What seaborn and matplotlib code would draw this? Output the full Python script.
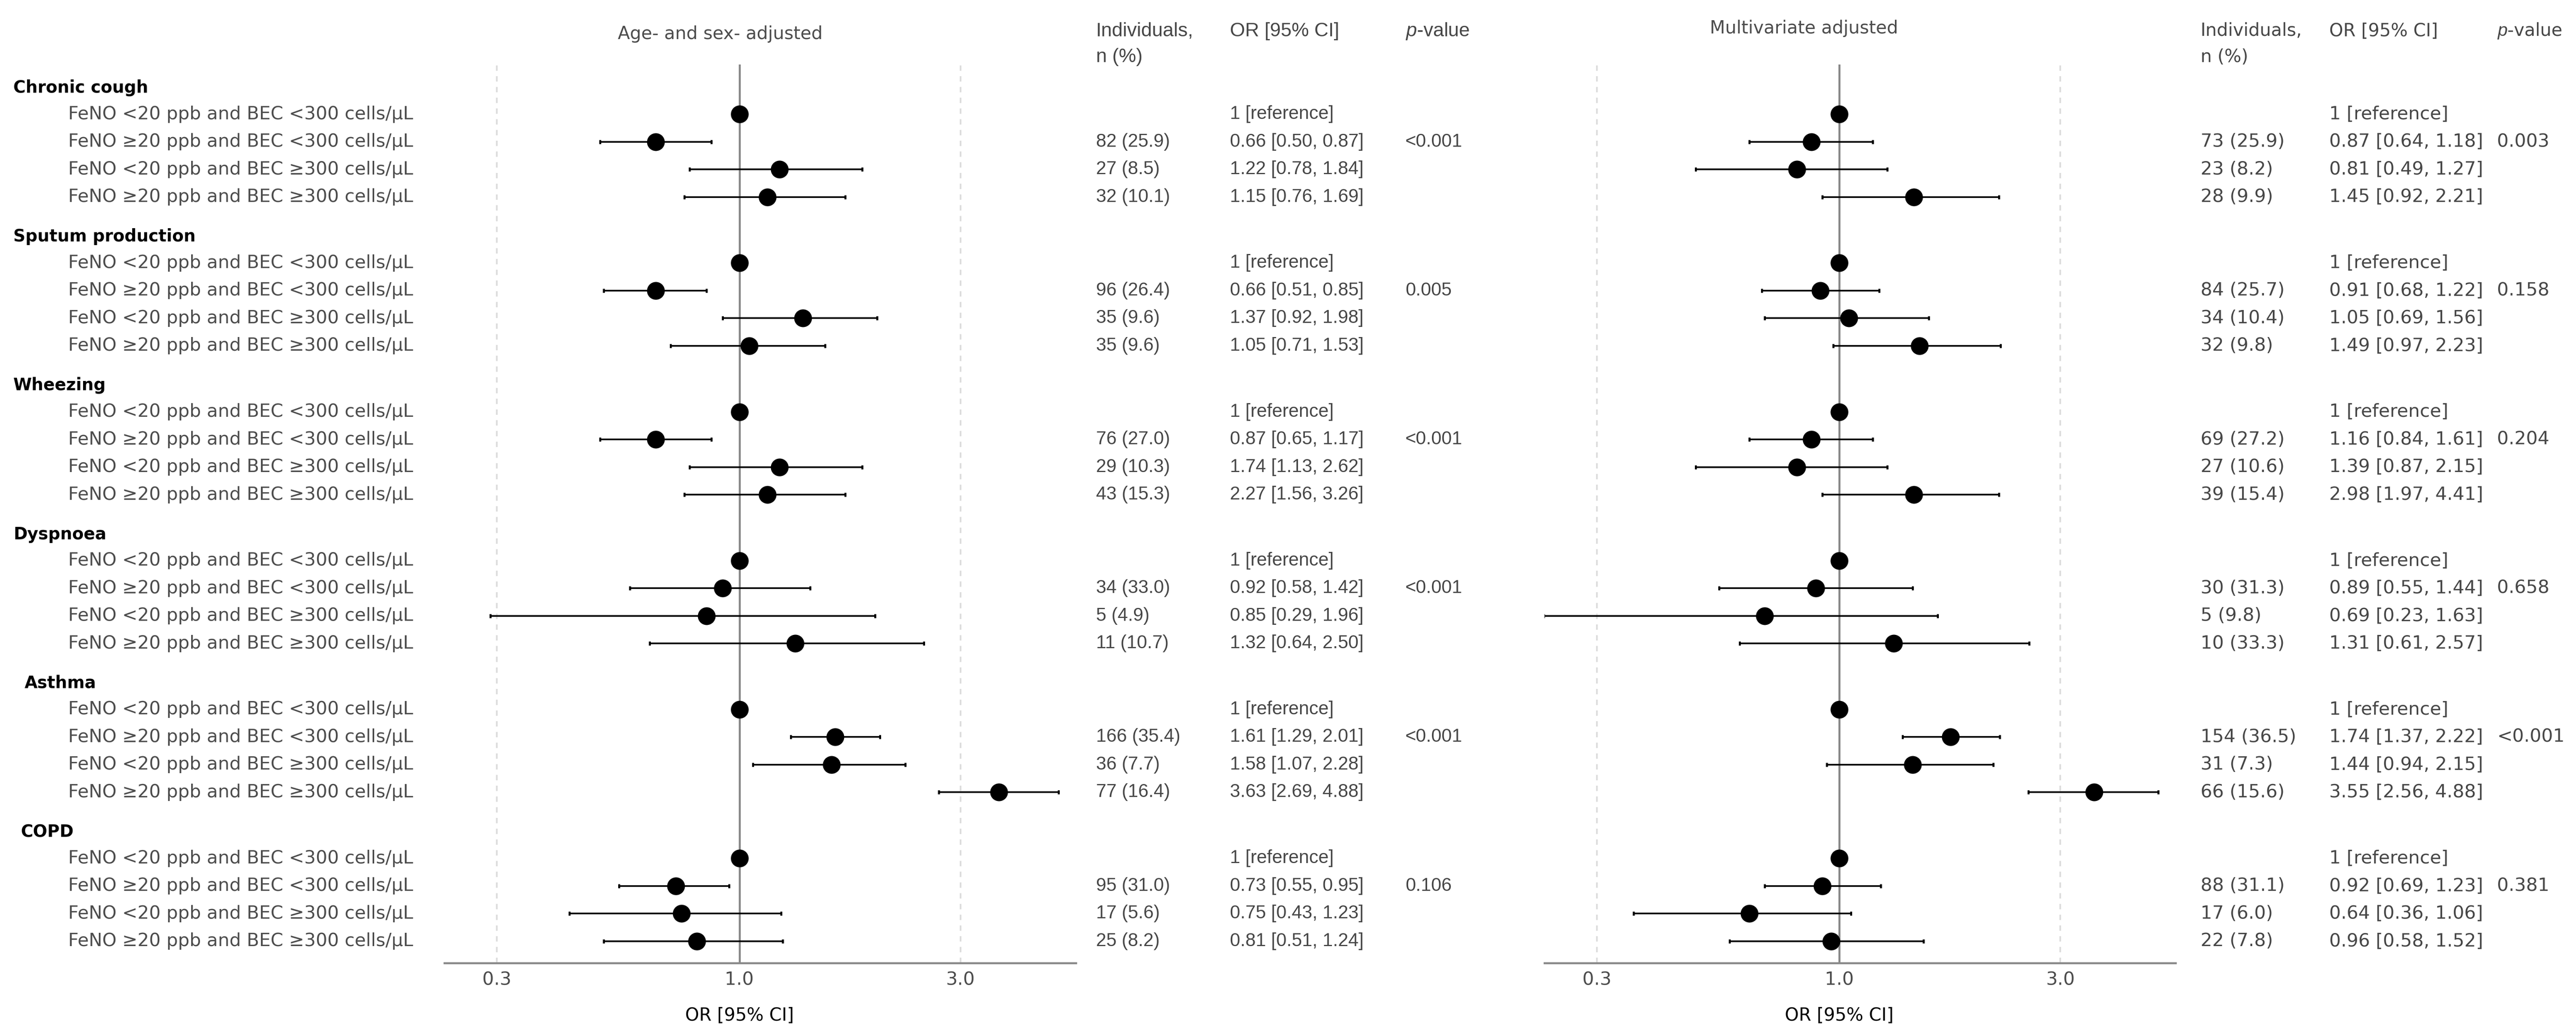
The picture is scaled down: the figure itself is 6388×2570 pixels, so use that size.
import numpy as np
import pandas as pd
import matplotlib
matplotlib.use("Agg")
import matplotlib.pyplot as plt
import matplotlib.transforms as mtransforms
from matplotlib.ticker import NullLocator
import seaborn as sns

# ---- data -------------------------------------------------------------
groups = ["Chronic cough", "Sputum production", "Wheezing", "Dyspnoea", "Asthma", "COPD"]
categories = [
    "FeNO <20 ppb and BEC <300 cells/\u03bcL",
    "FeNO \u226520 ppb and BEC <300 cells/\u03bcL",
    "FeNO <20 ppb and BEC \u2265300 cells/\u03bcL",
    "FeNO \u226520 ppb and BEC \u2265300 cells/\u03bcL",
]

# estimates as drawn in the picture (rows 2-4 of each group; row 1 is the reference at 1)
left_or = [[0.66, 1.22, 1.15], [0.66, 1.37, 1.05], [0.66, 1.22, 1.15],
           [0.92, 0.85, 1.32], [1.61, 1.58, 3.63], [0.73, 0.75, 0.81]]
left_lo = [[0.50, 0.78, 0.76], [0.51, 0.92, 0.71], [0.50, 0.78, 0.76],
           [0.58, 0.29, 0.64], [1.29, 1.07, 2.69], [0.55, 0.43, 0.51]]
left_hi = [[0.87, 1.84, 1.69], [0.85, 1.98, 1.53], [0.87, 1.84, 1.69],
           [1.42, 1.96, 2.50], [2.01, 2.28, 4.88], [0.95, 1.23, 1.24]]

right_or = [[0.87, 0.81, 1.45], [0.91, 1.05, 1.49], [0.87, 0.81, 1.45],
            [0.89, 0.69, 1.31], [1.74, 1.44, 3.55], [0.92, 0.64, 0.96]]
right_lo = [[0.64, 0.49, 0.92], [0.68, 0.69, 0.97], [0.64, 0.49, 0.92],
            [0.55, 0.23, 0.61], [1.37, 0.94, 2.56], [0.69, 0.36, 0.58]]
right_hi = [[1.18, 1.27, 2.21], [1.22, 1.56, 2.23], [1.18, 1.27, 2.21],
            [1.44, 1.63, 2.57], [2.22, 2.15, 4.88], [1.23, 1.06, 1.52]]

# table text
left_n = [["82 (25.9)", "27 (8.5)", "32 (10.1)"],
          ["96 (26.4)", "35 (9.6)", "35 (9.6)"],
          ["76 (27.0)", "29 (10.3)", "43 (15.3)"],
          ["34 (33.0)", "5 (4.9)", "11 (10.7)"],
          ["166 (35.4)", "36 (7.7)", "77 (16.4)"],
          ["95 (31.0)", "17 (5.6)", "25 (8.2)"]]
left_ci = [["0.66 [0.50, 0.87]", "1.22 [0.78, 1.84]", "1.15 [0.76, 1.69]"],
           ["0.66 [0.51, 0.85]", "1.37 [0.92, 1.98]", "1.05 [0.71, 1.53]"],
           ["0.87 [0.65, 1.17]", "1.74 [1.13, 2.62]", "2.27 [1.56, 3.26]"],
           ["0.92 [0.58, 1.42]", "0.85 [0.29, 1.96]", "1.32 [0.64, 2.50]"],
           ["1.61 [1.29, 2.01]", "1.58 [1.07, 2.28]", "3.63 [2.69, 4.88]"],
           ["0.73 [0.55, 0.95]", "0.75 [0.43, 1.23]", "0.81 [0.51, 1.24]"]]
left_p = ["<0.001", "0.005", "<0.001", "<0.001", "<0.001", "0.106"]

right_n = [["73 (25.9)", "23 (8.2)", "28 (9.9)"],
           ["84 (25.7)", "34 (10.4)", "32 (9.8)"],
           ["69 (27.2)", "27 (10.6)", "39 (15.4)"],
           ["30 (31.3)", "5 (9.8)", "10 (33.3)"],
           ["154 (36.5)", "31 (7.3)", "66 (15.6)"],
           ["88 (31.1)", "17 (6.0)", "22 (7.8)"]]
right_ci = [["0.87 [0.64, 1.18]", "0.81 [0.49, 1.27]", "1.45 [0.92, 2.21]"],
            ["0.91 [0.68, 1.22]", "1.05 [0.69, 1.56]", "1.49 [0.97, 2.23]"],
            ["1.16 [0.84, 1.61]", "1.39 [0.87, 2.15]", "2.98 [1.97, 4.41]"],
            ["0.89 [0.55, 1.44]", "0.69 [0.23, 1.63]", "1.31 [0.61, 2.57]"],
            ["1.74 [1.37, 2.22]", "1.44 [0.94, 2.15]", "3.55 [2.56, 4.88]"],
            ["0.92 [0.69, 1.23]", "0.64 [0.36, 1.06]", "0.96 [0.58, 1.52]"]]
right_p = ["0.003", "0.158", "0.204", "0.658", "<0.001", "0.381"]

x_ticks = [0.3, 1.0, 3.0]
x_ticklabels = ["0.3", "1.0", "3.0"]

# ---- layout -----------------------------------------------------------
W, H, DPI = 6388, 2570, 300
GROUP_STEP = 5.39
ROW_OFFSET = 0.95
ROW_PX, Y0_PX = 68.5, 218.0
AX_TOP, AX_BOT = 160, 2389
XLIM = (0.231, 5.32)

TXT = "#474747"
LAB = "#4d4d4d"


def fx(px):
    return px / W


def fy(px):
    return 1 - px / H


sns.set_theme(style="white")
plt.rcParams["font.family"] = ["DejaVu Sans"]
plt.rcParams["mathtext.fontset"] = "custom"
plt.rcParams["mathtext.it"] = "Liberation Sans:italic"
plt.rcParams["mathtext.rm"] = "Liberation Sans"

header_y = [k * GROUP_STEP for k in range(len(groups))]
row_y = [[h + ROW_OFFSET + j for j in range(4)] for h in header_y]


def panel_frame(ors, los, his):
    recs = []
    for g in range(len(groups)):
        recs.append(dict(y=row_y[g][0], est=1.0, lo=1.0, hi=1.0, ref=True))
        for j in range(3):
            recs.append(dict(y=row_y[g][j + 1], est=ors[g][j], lo=los[g][j],
                             hi=his[g][j], ref=False))
    return pd.DataFrame(recs)


fig = plt.figure(figsize=(W / DPI, H / DPI), dpi=DPI)
ylim = ((AX_BOT - Y0_PX) / ROW_PX, (AX_TOP - Y0_PX) / ROW_PX)

panels = [
    dict(x0=1102, x1=2668, df=panel_frame(left_or, left_lo, left_hi),
         title="Age- and sex- adjusted", tx=1786, ty=84),
    dict(x0=3830, x1=5395, df=panel_frame(right_or, right_lo, right_hi),
         title="Multivariate adjusted", tx=4474, ty=70),
]

axes = []
for p in panels:
    ax = fig.add_axes([fx(p["x0"]), fy(AX_BOT), (p["x1"] - p["x0"]) / W,
                       (AX_BOT - AX_TOP) / H])
    ax.set_xscale("log")
    ax.set_xlim(*XLIM)
    ax.set_ylim(*ylim)
    df = p["df"]

    ax.axvline(1.0, color="#8a8a8a", lw=1.2, zorder=1)
    for v in (0.3, 3.0):
        ax.axvline(v, color="#dcdcdc", lw=1.0, ls=(0, (3.2, 3.2)), zorder=0)

    ci = df[~df["ref"]]
    ax.errorbar(ci["est"], ci["y"],
                xerr=[ci["est"] - ci["lo"], ci["hi"] - ci["est"]],
                fmt="none", ecolor="black", elinewidth=1.0,
                capsize=1.2, capthick=1.2, zorder=2)
    sns.scatterplot(data=df, x="est", y="y", ax=ax, color="black", s=112,
                    linewidth=0, zorder=3, legend=False)

    ax.set_xticks(x_ticks)
    ax.set_xticklabels(x_ticklabels)
    ax.xaxis.set_minor_locator(NullLocator())
    ax.tick_params(axis="x", length=0, pad=5, labelsize=10.9, labelcolor=LAB)
    ax.set_yticks([])
    ax.set_xlabel("")
    ax.set_ylabel("")
    for s in ("top", "left", "right"):
        ax.spines[s].set_visible(False)
    ax.spines["bottom"].set_color("#8a8a8a")
    ax.spines["bottom"].set_linewidth(1.2)

    tr = mtransforms.blended_transform_factory(ax.transData, fig.transFigure)
    ax.text(1.0, fy(2519), "OR [95% CI]", transform=tr, ha="center",
            va="center", fontsize=10.6, color="black")
    fig.text(fx(p["tx"]), fy(p["ty"]), p["title"], ha="center", va="center",
             fontsize=10.6, color=LAB)
    axes.append(ax)

# row labels on the left
tr_rows = mtransforms.blended_transform_factory(fig.transFigure, axes[0].transData)
header_px = {"Asthma": 61, "COPD": 52}
for g, name in enumerate(groups):
    fig.text(fx(header_px.get(name, 33)), header_y[g], name, transform=tr_rows,
             ha="left", va="center", fontsize=10, fontweight="bold", color="black")
    for j, cat in enumerate(categories):
        fig.text(fx(169), row_y[g][j], cat, transform=tr_rows, ha="left",
                 va="center", fontsize=10.8, color=LAB)

# tables
tables = [
    dict(n=left_n, ci=left_ci, p=left_p, cols=(2718, 3050, 3485),
         fam=["Liberation Sans", "DejaVu Sans"], size=11.0, hsize=11.6),
    dict(n=right_n, ci=right_ci, p=right_p, cols=(5457, 5776, 6192),
         fam=["DejaVu Sans"], size=10.9, hsize=10.6),
]
for t in tables:
    cn, cc, cp = t["cols"]
    kw = dict(family=t["fam"], color=TXT, ha="left", va="center")
    fig.text(fx(cn), fy(77), "Individuals,", fontsize=t["hsize"], **kw)
    fig.text(fx(cn), fy(141), "n (%)", fontsize=t["hsize"], **kw)
    fig.text(fx(cc), fy(77), "OR [95% CI]", fontsize=t["hsize"], **kw)
    fig.text(fx(cp), fy(77), "$p$-value", fontsize=t["hsize"], **kw)
    for g in range(len(groups)):
        fig.text(fx(cc), row_y[g][0], "1 [reference]", transform=tr_rows,
                 fontsize=t["size"], **kw)
        for j in range(3):
            fig.text(fx(cn), row_y[g][j + 1], t["n"][g][j], transform=tr_rows,
                     fontsize=t["size"], **kw)
            fig.text(fx(cc), row_y[g][j + 1], t["ci"][g][j], transform=tr_rows,
                     fontsize=t["size"], **kw)
        fig.text(fx(cp), row_y[g][1], t["p"][g], transform=tr_rows,
                 fontsize=t["size"], **kw)

fig.savefig("out.png", dpi=DPI, facecolor="white")
